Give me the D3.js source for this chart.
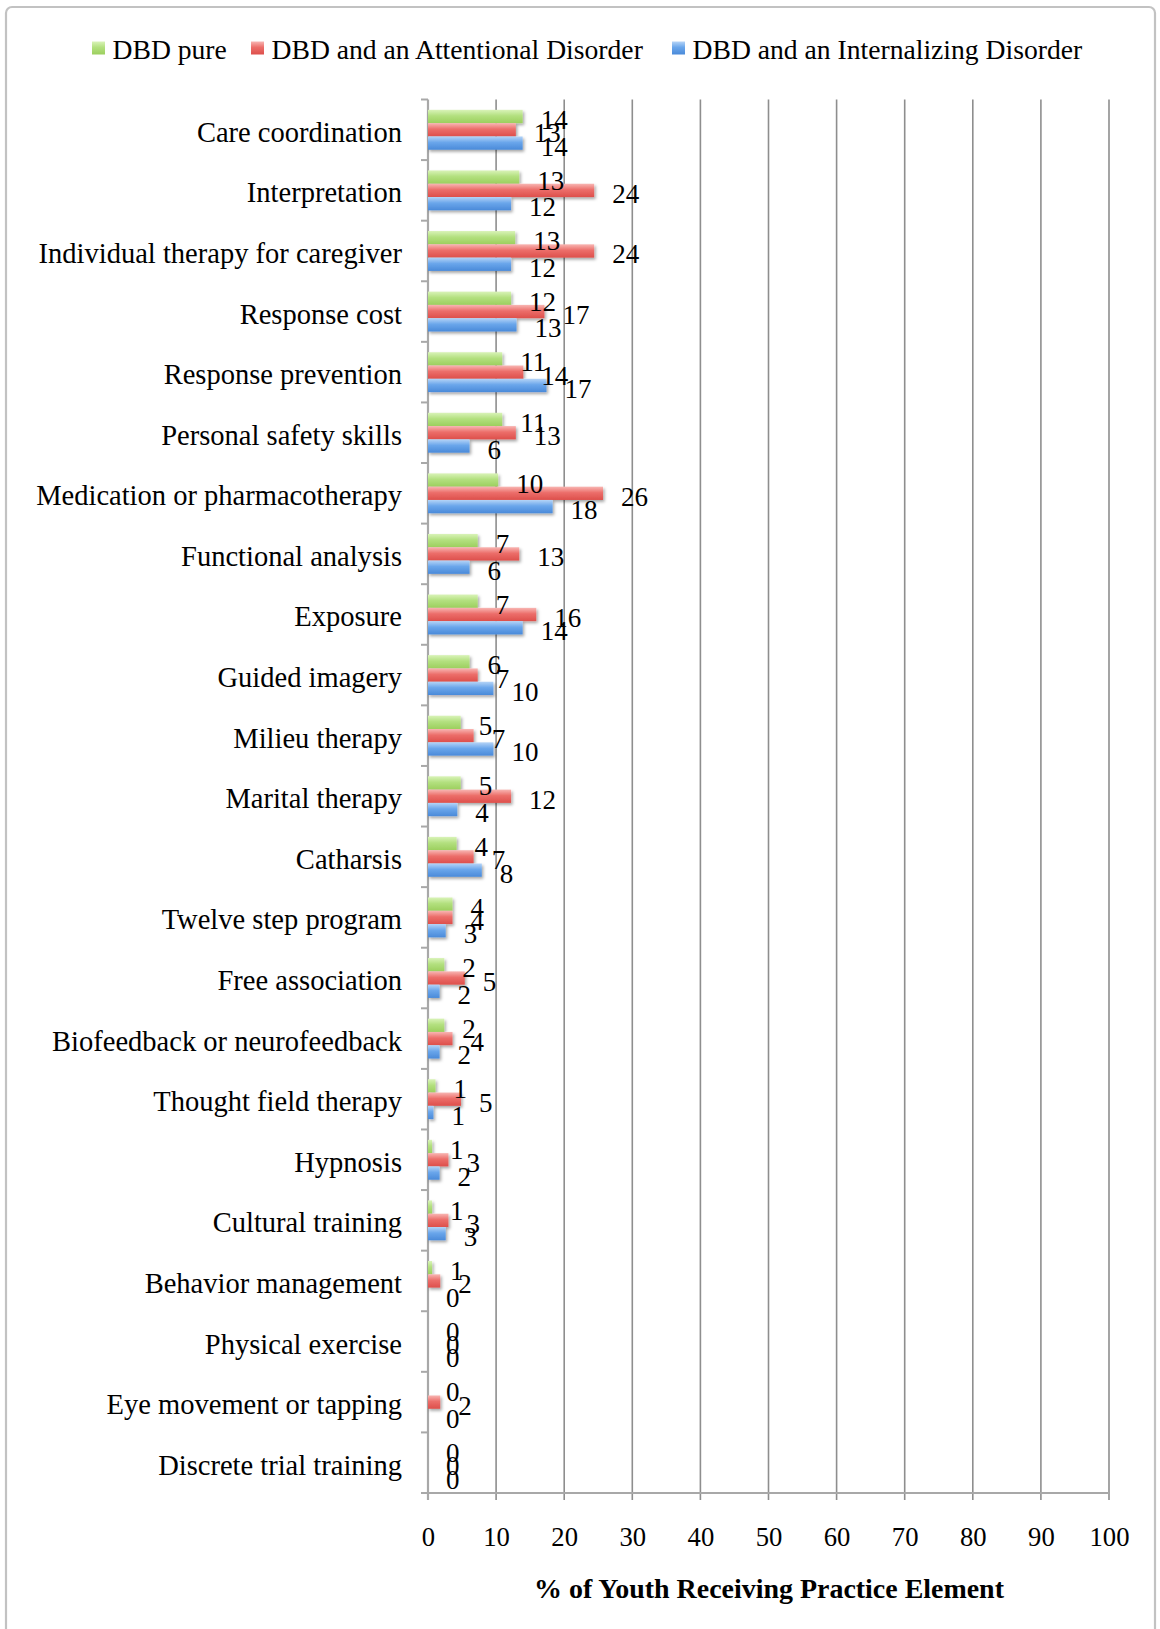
<!DOCTYPE html>
<html><head><meta charset="utf-8">
<script src="https://cdn.jsdelivr.net/npm/d3@7"></script>
<style>body{margin:0;background:#fff} svg{display:block}</style>
</head><body>
<svg id="chart" width="1160" height="1629"></svg>
<script>
const categories = ["Care coordination","Interpretation","Individual therapy for caregiver","Response cost","Response prevention","Personal safety skills","Medication or pharmacotherapy","Functional analysis","Exposure","Guided imagery","Milieu therapy","Marital therapy","Catharsis","Twelve step program","Free association","Biofeedback or neurofeedback","Thought field therapy","Hypnosis","Cultural training","Behavior management","Physical exercise","Eye movement or tapping","Discrete trial training"];
const seriesNames = ["DBD pure","DBD and an Attentional Disorder","DBD and an Internalizing Disorder"];
const pureValues = [13.9,13.4,12.8,12.2,10.9,10.9,10.3,7.3,7.3,6.1,4.8,4.8,4.2,3.6,2.4,2.4,1.1,0.6,0.6,0.6,0,0,0];
const attentionalValues = [12.9,24.4,24.4,17.1,14.0,12.9,25.7,13.4,15.9,7.3,6.7,12.2,6.7,3.6,5.4,3.6,4.85,3.0,3.0,1.8,0,1.8,0];
const internalizingValues = [13.9,12.2,12.2,13.0,17.4,6.1,18.3,6.1,13.9,9.6,9.6,4.3,7.9,2.6,1.7,1.7,0.8,1.7,2.6,0,0,0,0];
const xTickValues = [0,10,20,30,40,50,60,70,80,90,100];
const axisTitle = "% of Youth Receiving Practice Element";

const FONT = "'Liberation Serif','Times New Roman',serif";
const svg = d3.select("#chart");

// measure helper to fit font sizes to reference widths
function fitSize(text, target, weight) {
  const t = svg.append("text").attr("font-family", FONT).attr("font-size", 100)
    .attr("font-weight", weight || "normal").text(text);
  const w = t.node().getComputedTextLength();
  t.remove();
  return 100 * target / w;
}
const catFont = fitSize("Medication or pharmacotherapy", 366);
const legFont = fitSize("DBD and an Internalizing Disorder", 390);
const tickFont = fitSize("100", 40);
const valFont = fitSize("24", 27);
const titleFont = fitSize(axisTitle, 470, "bold");

// defs: gradients + shadow
const defs = svg.append("defs");
const grads = [
  ["g0", ["#d9f3b8", "#b3e07f", "#9ccf5e"]],
  ["g1", ["#f8b6b3", "#ec6e6a", "#dd4f4b"]],
  ["g2", ["#b5d4f7", "#6aa6eb", "#4a8ad9"]]
];
grads.forEach(([id, c]) => {
  const g = defs.append("linearGradient").attr("id", id).attr("x1", 0).attr("y1", 0).attr("x2", 0).attr("y2", 1);
  g.append("stop").attr("offset", "0%").attr("stop-color", c[0]);
  g.append("stop").attr("offset", "45%").attr("stop-color", c[1]);
  g.append("stop").attr("offset", "100%").attr("stop-color", c[2]);
});
const flt = defs.append("filter").attr("id", "shadow").attr("x", "-10%").attr("y", "-30%").attr("width", "130%").attr("height", "180%");
flt.append("feDropShadow").attr("dx", 1.5).attr("dy", 2).attr("stdDeviation", 1.6)
  .attr("flood-color", "#000").attr("flood-opacity", 0.35);

// border
svg.append("rect").attr("x", 6).attr("y", 7).attr("width", 1149).attr("height", 1700).attr("rx", 6)
  .attr("fill", "none").attr("stroke", "#c2c2c2").attr("stroke-width", 2.2);

const x = d3.scaleLinear().domain([0, 100]).range([428, 1109]);
const y = d3.scaleBand().domain(categories).range([99.5, 1493]);
const inner = d3.scaleBand().domain([0, 1, 2]).range([0, y.bandwidth()]).paddingOuter(0.778);
const [yTop, yBottom] = y.range();

// gridlines
svg.append("g").selectAll("line").data(xTickValues).join("line")
  .attr("x1", d => x(d)).attr("x2", d => x(d))
  .attr("y1", yTop).attr("y2", yBottom + 7)
  .attr("stroke", d => d === 0 ? "#a8a8a8" : "#8e8e8e").attr("stroke-width", d => d === 0 ? 2.2 : 1.6);

// bottom axis line
svg.append("line").attr("x1", 421).attr("x2", x(100)).attr("y1", yBottom).attr("y2", yBottom)
  .attr("stroke", "#a8a8a8").attr("stroke-width", 2.2);

// left tick marks at category boundaries
const bounds = categories.map(c => y(c)).concat([yBottom]);
svg.append("g").selectAll("line").data(bounds).join("line")
  .attr("x1", 421).attr("x2", x(0)).attr("y1", d => d).attr("y2", d => d)
  .attr("stroke", "#a8a8a8").attr("stroke-width", 2);

// x tick labels
const xAxis = d3.axisBottom(x).tickValues(xTickValues).tickSize(0).tickPadding(0);
const gx = svg.append("g").attr("transform", `translate(0,1537)`).call(xAxis);
gx.select(".domain").remove();
gx.selectAll("text").attr("font-family", FONT).attr("font-size", tickFont).attr("fill", "#000")
  .attr("dy", null).attr("y", 0).attr("dominant-baseline", "central");

// category labels
const yAxis = d3.axisLeft(y).tickSize(0).tickPadding(26);
const gy = svg.append("g").attr("transform", `translate(${x(0)},0)`).call(yAxis);
gy.select(".domain").remove();
gy.selectAll("text").attr("font-family", FONT).attr("font-size", catFont).attr("fill", "#000")
  .attr("dy", null).attr("dominant-baseline", "central").attr("transform", "translate(0,2.5)");

// bars
const series = [pureValues, attentionalValues, internalizingValues];
const rows = [];
categories.forEach((c, i) => series.forEach((s, k) => rows.push({ c, k, v: s[i] })));

svg.append("g").attr("filter", "url(#shadow)").selectAll("rect").data(rows.filter(d => d.v > 0)).join("rect")
  .attr("x", x(0)).attr("y", d => y(d.c) + inner(d.k))
  .attr("width", d => x(d.v) - x(0)).attr("height", inner.bandwidth())
  .attr("fill", d => `url(#g${d.k})`);

// value labels
svg.append("g").selectAll("text").data(rows).join("text")
  .attr("x", d => x(d.v) + 18)
  .attr("y", d => y(d.c) + inner(d.k) + inner.bandwidth() / 2 + 3.5)
  .attr("dominant-baseline", "central")
  .attr("font-family", FONT).attr("font-size", valFont).attr("fill", "#000")
  .text(d => Math.round(d.v));

// legend
const legendX = [92, 251, 672];
const leg = svg.append("g");
seriesNames.forEach((name, k) => {
  leg.append("rect").attr("x", legendX[k]).attr("y", 41.5).attr("width", 13).attr("height", 13)
    .attr("fill", `url(#g${k})`);
  leg.append("text").attr("x", legendX[k] + 20.5).attr("y", 58.5)
    .attr("font-family", FONT).attr("font-size", legFont).attr("fill", "#000").text(name);
});

// axis title
svg.append("text").attr("x", 769).attr("y", 1588).attr("text-anchor", "middle")
  .attr("dominant-baseline", "central").attr("font-family", FONT).attr("font-weight", "bold")
  .attr("font-size", titleFont).attr("fill", "#000").text(axisTitle);
</script>
</body></html>
